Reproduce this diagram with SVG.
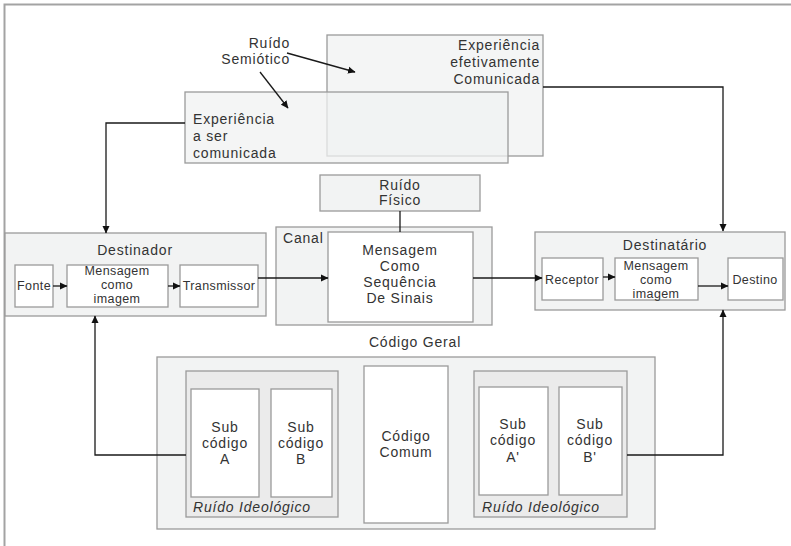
<svg xmlns="http://www.w3.org/2000/svg" width="791" height="546" viewBox="0 0 791 546">
<defs>
<marker id="ah" markerWidth="8" markerHeight="8" refX="7" refY="4" orient="auto" markerUnits="userSpaceOnUse">
<path d="M0,0.5 L7.5,4 L0,7.5 Z" fill="#111"/>
</marker>
</defs>
<style>
text{font-family:"Liberation Sans",Arial,sans-serif;fill:#333;}
.lbl{font-size:14px;letter-spacing:0.8px;}
.sm{font-size:12.5px;letter-spacing:0.4px;}
.c{text-anchor:middle;}
.box{fill:#f2f3f3;stroke:#9a9a9a;stroke-width:1.3;}
.tbox{fill:#f0f1f1;fill-opacity:0.75;stroke:#9a9a9a;stroke-width:1.3;}
.inner{fill:#ffffff;stroke:#9a9a9a;stroke-width:1.3;}
.noise{fill:#ebebeb;stroke:#9a9a9a;stroke-width:1.3;}
.con{fill:none;stroke:#1a1a1a;stroke-width:1.3;}
.arr{marker-end:url(#ah);}
.it{font-style:italic;}
</style>
<rect width="791" height="546" fill="#ffffff"/>
<path d="M4.5,546 V4.5 H791" fill="none" stroke="#a3a3a3" stroke-width="2"/>

<g id="exp-efetiva">
<rect class="tbox" x="327" y="35" width="216" height="121"/>
<text class="lbl" x="540" y="50" text-anchor="end">Experiência</text>
<text class="lbl" x="540" y="67" text-anchor="end">efetivamente</text>
<text class="lbl" x="540" y="84" text-anchor="end">Comunicada</text>
</g>
<g id="exp-a-ser">
<rect class="tbox" x="185" y="92" width="323" height="71"/>
<text class="lbl" x="193" y="124">Experiência</text>
<text class="lbl" x="193" y="141">a ser</text>
<text class="lbl" x="193" y="158">comunicada</text>
</g>
<g id="ruido-semiotico">
<text class="lbl" x="290" y="48" text-anchor="end">Ruído</text>
<text class="lbl" x="290" y="64" text-anchor="end">Semiótico</text>
</g>
<g id="ruido-fisico">
<rect class="box" x="320" y="175" width="160" height="36"/>
<text class="lbl c" x="400" y="190">Ruído</text>
<text class="lbl c" x="400" y="205">Físico</text>
</g>

<g id="destinador">
<rect class="box" x="5" y="233" width="261" height="83"/>
<text class="lbl c" x="135" y="255">Destinador</text>
<g id="fonte">
<rect class="inner" x="15" y="265" width="38" height="42"/>
<text class="sm c" x="34" y="290">Fonte</text>
</g>
<g id="msg-img-1">
<rect class="inner" x="67" y="265" width="101" height="42"/>
<text class="sm c" x="117" y="275">Mensagem</text>
<text class="sm c" x="117" y="289">como</text>
<text class="sm c" x="117" y="303">imagem</text>
</g>
<g id="transmissor">
<rect class="inner" x="180" y="265" width="78" height="42"/>
<text class="sm c" x="219" y="290">Transmissor</text>
</g>
</g>

<g id="canal">
<rect class="box" x="276" y="227" width="216" height="98"/>
<text class="lbl" x="283" y="243">Canal</text>
<g id="msg-sinais">
<rect class="inner" x="328" y="232" width="145" height="90"/>
<text class="lbl c" x="400" y="255">Mensagem</text>
<text class="lbl c" x="400" y="271">Como</text>
<text class="lbl c" x="400" y="287">Sequência</text>
<text class="lbl c" x="400" y="303">De Sinais</text>
</g>
</g>

<g id="destinatario">
<rect class="box" x="535" y="232" width="250" height="78"/>
<text class="lbl c" x="665" y="250">Destinatário</text>
<g id="receptor">
<rect class="inner" x="542" y="258" width="61" height="42"/>
<text class="sm c" x="572" y="284">Receptor</text>
</g>
<g id="msg-img-2">
<rect class="inner" x="615" y="258" width="83" height="42"/>
<text class="sm c" x="656" y="270">Mensagem</text>
<text class="sm c" x="656" y="284">como</text>
<text class="sm c" x="656" y="298">imagem</text>
</g>
<g id="destino">
<rect class="inner" x="728" y="258" width="55" height="42"/>
<text class="sm c" x="755" y="284">Destino</text>
</g>
</g>

<g id="codigo-geral">
<text class="lbl c" x="415" y="347">Código Geral</text>
<rect class="box" x="157" y="357" width="498" height="172"/>
<g id="ruido-ideo-1">
<rect class="noise" x="186" y="371" width="152" height="146"/>
<text class="lbl it" x="193" y="512">Ruído Ideológico</text>
</g>
<g id="sub-a">
<rect class="inner" x="191" y="389" width="68" height="108"/>
<text class="lbl c" x="225" y="432">Sub</text>
<text class="lbl c" x="225" y="448">código</text>
<text class="lbl c" x="225" y="464">A</text>
</g>
<g id="sub-b">
<rect class="inner" x="271" y="389" width="61" height="108"/>
<text class="lbl c" x="301" y="432">Sub</text>
<text class="lbl c" x="301" y="448">código</text>
<text class="lbl c" x="301" y="464">B</text>
</g>
<g id="codigo-comum">
<rect class="inner" x="364" y="366" width="84" height="157"/>
<text class="lbl c" x="406" y="441">Código</text>
<text class="lbl c" x="406" y="457">Comum</text>
</g>
<g id="ruido-ideo-2">
<rect class="noise" x="474" y="371" width="153" height="146"/>
<text class="lbl it" x="482" y="512">Ruído Ideológico</text>
</g>
<g id="sub-a2">
<rect class="inner" x="479" y="387" width="69" height="108"/>
<text class="lbl c" x="513" y="429">Sub</text>
<text class="lbl c" x="513" y="445">código</text>
<text class="lbl c" x="513" y="462">A'</text>
</g>
<g id="sub-b2">
<rect class="inner" x="559" y="387" width="63" height="108"/>
<text class="lbl c" x="590" y="429">Sub</text>
<text class="lbl c" x="590" y="445">código</text>
<text class="lbl c" x="590" y="462">B'</text>
</g>
</g>

<g id="connectors">
<path class="con arr" d="M287,53 L355,72"/>
<path class="con arr" d="M260,72 L288,108"/>
<path class="con arr" d="M185,123 H106 V233"/>
<path class="con arr" d="M543,87 H723 V231"/>
<line class="con" x1="400" y1="211" x2="400" y2="232" stroke="#444"/>
<path class="con arr" d="M53,286 H67"/>
<path class="con arr" d="M168,286 H180"/>
<path class="con arr" d="M258,278 H328"/>
<path class="con arr" d="M473,278 H542"/>
<path class="con arr" d="M603,277 H615"/>
<path class="con arr" d="M698,286 H728"/>
<path class="con arr" d="M186,455 H95 V316"/>
<path class="con arr" d="M627,455 H723 V310"/>
</g>
</svg>
